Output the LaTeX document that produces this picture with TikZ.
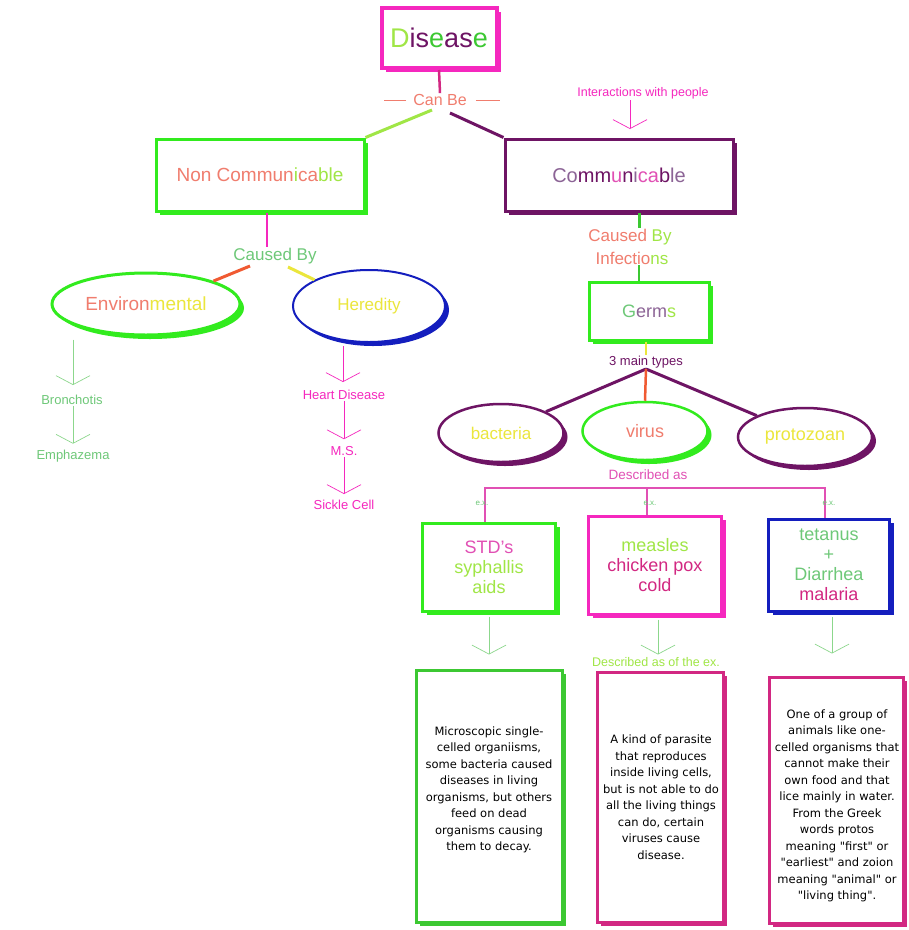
\documentclass[tikz,border=0pt]{standalone}
\usepackage{fontspec}
\setmainfont{Liberation Sans}
\newfontfamily\descfont{DejaVu Sans}
\usetikzlibrary{shapes.geometric,shadows,arrows.meta}
\definecolor{mag}{RGB}{245,40,190}
\definecolor{grn}{RGB}{50,235,30}
\definecolor{dgrn}{RGB}{60,200,50}
\definecolor{pur}{RGB}{110,20,100}
\definecolor{pur2}{RGB}{140,100,150}
\definecolor{blu}{RGB}{20,30,190}
\definecolor{lgrn}{RGB}{160,230,70}
\definecolor{tgrn}{RGB}{110,200,120}
\definecolor{salm}{RGB}{240,125,110}
\definecolor{yel}{RGB}{235,230,60}
\definecolor{dpink}{RGB}{210,40,130}
\definecolor{pnk}{RGB}{225,80,180}
\definecolor{ora}{RGB}{240,90,50}
\definecolor{aline}{RGB}{140,215,140}
\begin{document}
\begin{tikzpicture}[x=1pt,y=-1pt,
  sbox/.style={draw=#1, rectangle, line width=3pt, fill=white, align=center,
    general shadow={fill=#1, shadow xshift=4pt, shadow yshift=-4pt}},
  sell/.style={draw=#1, ellipse, line width=2.5pt, fill=white,
    general shadow={fill=#1, shadow xshift=4pt, shadow yshift=-4pt}},
  varr/.style={draw=#1, line width=0.7pt, -{Straight Barb[length=9pt,width=34pt]}},
  conn/.style={draw=#1, line width=3pt},
  fs/.style={font=\fontsize{#1}{#1}\selectfont},
  desc/.style={align=center, font=\descfont\fontsize{11.5}{16.5}\selectfont, text=black},
  lbl/.style={inner sep=1pt}]
\useasboundingbox[fill=white] (0,0) rectangle (909,930);

% ---------- top ----------
\node[sbox=mag, line width=4pt, minimum width=115pt, minimum height=60pt, fs=27] (disease) at (439,38)
  {{\color{lgrn}D}{\color{pur}is}{\color{dgrn}e}{\color{pur}as}{\color{dgrn}e}};
\node[lbl, fs=16, text=salm] (canbe) at (440,100) {Can Be};
\draw[conn=dpink, line width=2.5pt] (disease.south) -- (canbe.north);
\draw[salm, line width=1pt] ([xshift=-6pt]canbe.west) -- ++(-22,0);
\draw[salm, line width=1pt] ([xshift=8pt]canbe.east) -- ++(24,0);

\node[sbox=grn, minimum width=208pt, minimum height=72pt, fs=19] (noncomm) at (260,175)
  {{\color{salm}Non Commun}{\color{lgrn}i}{\color{salm}ca}{\color{lgrn}ble}};
\node[sbox=pur, minimum width=228pt, minimum height=72pt, fs=20] (comm) at (619,175)
  {{\color{pur2}Co}{\color{pur}mm}{\color{pnk}u}{\color{pur}n}{\color{pur2}i}{\color{pnk}ca}{\color{pur}b}{\color{pur2}le}};
\coordinate (cbL) at (432,110);
\coordinate (cbR) at (450,113);
\draw[conn=lgrn] (cbL) -- (noncomm.north east);
\draw[conn=pur] (cbR) -- (comm.north west);

\node[lbl, fs=12.5, text=mag] (inter) at (643,93) {Interactions with people};
\coordinate (interend) at (630,129);
\draw[varr=mag] (interend |- inter.south) -- (interend);

% ---------- communicable branch ----------
\node[lbl, fs=17, text=salm] (cbr) at (630,237) {Caused {\color{lgrn}By}};
\node[lbl, fs=17, text=salm] (infect) at (632,258) {Infectio{\color{lgrn}ns}};
\draw[conn=dgrn] (comm.south -| cbr.north) ++(9,0) -- ([xshift=9pt]cbr.north);
\node[sbox=grn, minimum width=120pt, minimum height=58pt, fs=18] (germs) at (649,311)
  {{\color{tgrn}G}{\color{pur2}erm}{\color{lgrn}s}};
\draw[conn=dgrn, line width=2pt] (infect.south -| 639,0) -- (germs.north -| 639,0);
\node[lbl, fs=13, text=pur] (types) at (646,362) {3 main types};
\draw[conn=yel, line width=2.5pt] (germs.south -| types.north) -- (types.north);

\node[sell=pur, minimum width=125pt, minimum height=58pt, fs=17, text=yel] (bact) at (501,433) {bacteria};
\node[sell=grn, minimum width=125pt, minimum height=58pt, fs=18, text=salm] (virus) at (645,431) {virus};
\node[sell=pur, minimum width=134pt, minimum height=58pt, fs=18, text=yel] (proto) at (805,437) {protozoan};
\coordinate (tp) at (646,369);
\draw[conn=pur] (tp) -- (bact.north east);
\draw[conn=pur] (tp) -- (proto.north west);
\draw[conn=ora, line width=2.5pt] (tp) -- (virus.north);

\node[lbl, fs=13.5, text=pnk] (descas) at (648,475) {Described as};

\node[sbox=grn, minimum width=133pt, minimum height=88pt, fs=18] (std) at (489,567)
  {{\color{pnk}STD's}\\[2pt]{\color{lgrn}syphallis}\\[2pt]{\color{lgrn}aids}};
\node[sbox=mag, minimum width=133pt, minimum height=98pt, fs=18] (meas) at (655,565)
  {{\color{lgrn}measles}\\[2pt]{\color{dpink}chicken pox}\\[2pt]{\color{dpink}cold}};
\node[sbox=blu, minimum width=121pt, minimum height=92pt, fs=18] (tet) at (829,565)
  {{\color{tgrn}tetanus}\\[2pt]{\color{tgrn}+}\\[2pt]{\color{tgrn}Diarrhea}\\[2pt]{\color{dpink}malaria}};

\coordinate (hy) at (0,488);
\draw[pnk, line width=1.2pt] ([xshift=-4pt]std.north) -- ([xshift=-4pt]std.north |- hy) -- ([xshift=-4pt]tet.north |- hy) -- ([xshift=-4pt]tet.north);
\draw[pnk, line width=1.2pt] ([xshift=-8pt]meas.north |- hy) -- ([xshift=-8pt]meas.north);
\node[lbl, fs=8, text=tgrn] (ex1) at (482,503) {e.x.};
\node[lbl, fs=8, text=tgrn] (ex2) at (650,503) {e.x.};
\node[lbl, fs=8, text=tgrn] (ex3) at (829,503) {e.x.};

\node[sbox=dgrn, minimum width=146pt, minimum height=252pt] (bdesc) at (489,796) {};
\node[sbox=dpink, minimum width=126pt, minimum height=250pt] (vdesc) at (660,797) {};
\node[sbox=dpink, minimum width=134pt, minimum height=246pt] (pdesc) at (836,800) {};
\node[desc] (btext) at (489,790) {Microscopic single-\\celled organiisms,\\some bacteria caused\\diseases in living\\organisms, but others\\feed on dead\\organisms causing\\them to decay.};
\node[desc] (vtext) at (661,797) {A kind of parasite\\that reproduces\\inside living cells,\\but is not able to do\\all the living things\\can do, certain\\viruses cause\\disease.};
\node[desc] (ptext) at (837,806) {One of a group of\\animals like one-\\celled organisms that\\cannot make their\\own food and that\\lice mainly in water.\\From the Greek\\words protos\\meaning "first" or\\"earliest" and zoion\\meaning "animal" or\\"living thing".};

\draw[varr=aline] ([yshift=-4pt]std.south) -- ([yshift=14pt]bdesc.north);
\draw[varr=aline] ([xshift=3pt,yshift=-4pt]meas.south) -- ([xshift=-2pt,yshift=16pt]vdesc.north);
\draw[varr=aline] ([xshift=3pt,yshift=-4pt]tet.south) -- ([xshift=-4pt,yshift=22pt]pdesc.north);
\node[lbl, fs=12.5, text=lgrn] (descex) at (656,662) {Described as of the ex.};

% ---------- non communicable branch ----------
\node[lbl, fs=17, text=tgrn] (cbl) at (275,256) {Caused By};
\draw[conn=mag, line width=2.5pt] (noncomm.south -| 267,0) -- (cbl.north -| 267,0);
\node[sell=grn, line width=3pt, minimum width=188pt, minimum height=62pt, fs=19] (env) at (146,304)
  {{\color{salm}Environ}{\color{yel}mental}};
\node[sell=blu, line width=2pt, minimum width=152pt, minimum height=72pt, fs=17, text=yel] (her) at (369,306) {Heredity};
\coordinate (cbl1) at (250,266);
\coordinate (cbl2) at (288,267);
\draw[conn=ora] (cbl1) -- (env.north east);
\draw[conn=yel] (cbl2) -- (her.north west);

\node[lbl, fs=13, text=tgrn] (bron) at (72,400) {Bronchotis};
\node[lbl, fs=13, text=tgrn] (emph) at (73,456) {Emphazema};
\draw[varr=aline] ([yshift=-3pt]env.south -| 73,0) -- ([yshift=9pt]bron.north -| 73,0);
\draw[varr=aline] (bron.south -| 73,0) -- ([yshift=5pt]emph.north -| 73,0);

\node[lbl, fs=13, text=mag] (heart) at (344,395) {Heart Disease};
\node[lbl, fs=13, text=mag] (ms) at (344,451) {M.S.};
\node[lbl, fs=13, text=mag] (sick) at (344,505) {Sickle Cell};
\draw[varr=mag] ([yshift=-3pt]her.south -| 343,0) -- ([yshift=7pt]heart.north -| 343,0);
\draw[varr=mag] (heart.south -| 344,0) -- ([yshift=6pt]ms.north -| 344,0);
\draw[varr=mag] (ms.south -| 344,0) -- ([yshift=5pt]sick.north -| 344,0);
\end{tikzpicture}
\end{document}
